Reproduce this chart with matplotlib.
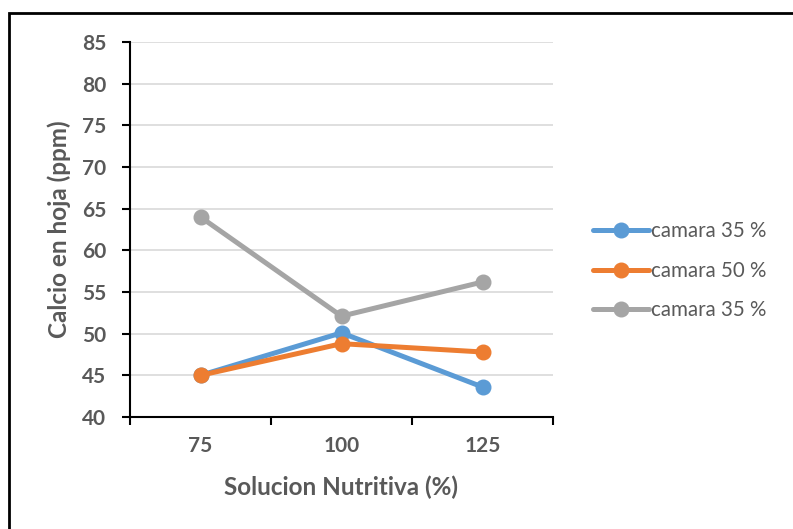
import numpy as np
import matplotlib.pyplot as plt
from matplotlib.patches import Rectangle

plt.rcParams['font.family'] = ['Lato', 'DejaVu Sans']

categories = ['75', '100', '125']
camara35_a = [45.0, 50.1, 43.6]
camara50 = [45.0, 48.8, 47.8]
camara35_b = [64.0, 52.1, 56.2]
series_labels = ['camara 35 %', 'camara 50 %', 'camara 35 %']
colors = ['#5b9bd5', '#ed7d31', '#a5a5a5']
text_col = '#595959'

fig = plt.figure(figsize=(7.93, 5.29), dpi=100)
ax = fig.add_axes([130/793, 1-417/529, 423/793, 375/529])

x = np.arange(len(categories))
for vals, lab, c in zip([camara35_a, camara50, camara35_b], series_labels, colors):
    ax.plot(x, vals, color=c, lw=3.6, marker='o', markersize=10.5,
            solid_capstyle='round', label=lab)

ax.set_xlim(-0.5, len(categories) - 0.5)
ax.set_ylim(40, 85)
ax.set_yticks(np.arange(40, 86, 5))
ax.yaxis.grid(True, color='#d9d9d9', lw=1.2)
ax.set_axisbelow(True)

ax.set_xticks(x)
ax.set_xticklabels(categories)
ax.set_xticks(np.arange(-0.5, len(categories)), minor=True)
ax.tick_params(axis='x', which='major', length=0, pad=14)
ax.tick_params(axis='x', which='minor', length=6, width=1.5, direction='out', color='black')
ax.tick_params(axis='y', length=6, width=1.5, direction='out', color='black', pad=11)
for lbl in ax.get_xticklabels() + ax.get_yticklabels():
    lbl.set_fontweight('bold')
    lbl.set_color(text_col)
    lbl.set_fontsize(15)

for side in ['top', 'right']:
    ax.spines[side].set_visible(False)
for side in ['left', 'bottom']:
    ax.spines[side].set_color('black')
    ax.spines[side].set_linewidth(1.5)

ax.set_xlabel('Solucion Nutritiva (%)', fontsize=17.5, fontweight='bold', color=text_col, labelpad=14)
ax.set_ylabel('Calcio en hoja (ppm)', fontsize=17.5, fontweight='bold', color=text_col, labelpad=8)

leg = ax.legend(loc='center left', bbox_to_anchor=(1.05, 0.39), frameon=False,
                fontsize=14.8, handlelength=2.75, handletextpad=0.1, labelspacing=0.95,
                labelcolor=text_col)

fig.patches.append(Rectangle((9/793, -0.1), 1.2, 1-13/529+0.1, transform=fig.transFigure,
                             fill=False, edgecolor='black', lw=2))

fig.savefig('out.png', dpi=100)
